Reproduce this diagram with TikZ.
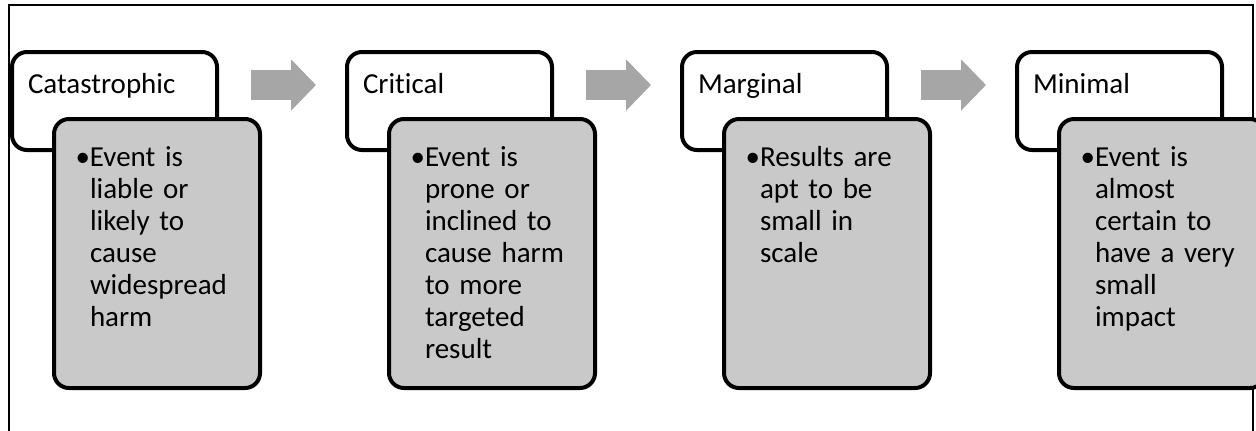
\documentclass[tikz,border=0pt]{standalone}
\usepackage{fontspec}
\setmainfont{Carlito}[Ligatures={NoCommon}]
\usetikzlibrary{positioning,arrows.meta}

\definecolor{boxgray}{RGB}{201,201,201}
\definecolor{arrowgray}{RGB}{166,166,166}

\begin{document}
\begin{tikzpicture}[x=0.5pt, y=-0.5pt,
    font=\fontsize{14.5pt}{16pt}\selectfont,
    head/.style = {draw, line width=2pt, rounded corners=7.5pt, fill=white, align=left,
        text width=86.5pt, inner xsep=8pt, inner ysep=0pt, text height=20.5pt, text depth=28.5pt},
    detail/.style = {draw, line width=2pt, rounded corners=7.5pt, fill=boxgray, anchor=north west,
        align=left, text width=67pt, inner xsep=18pt, inner ysep=0pt, text height=23.5pt, text depth=111pt},
    flow/.style = {arrowgray, line width=15pt, -{Triangle[length=12.5pt, width=25pt]}}]
    \useasboundingbox (0,0) rectangle (1256,430);
    \draw[line width=0.8pt] (9,440) -- (9,5) -- (1253,5) -- (1253,440);

    \node[head, anchor=north west] (w1) at (10,50) {Catastrophic};
    \node[head] (w2) [right=63pt of w1] {Critical};
    \node[head] (w3) [right=63pt of w2] {Marginal};
    \node[head] (w4) [right=63pt of w3] {Minimal};

    \node[detail] (g1) at ([xshift=21pt, yshift=-33.5pt]w1.north west)
        {\llap{\textbullet}Event is\\ liable or\\ likely to\\ cause\\ widespread\\ harm};
    \node[detail] (g2) at ([xshift=21pt, yshift=-33.5pt]w2.north west)
        {\llap{\textbullet}Event is\\ prone or\\ inclined~to\\ cause~harm\\ to more\\ targeted\\ result};
    \node[detail] (g3) at ([xshift=21pt, yshift=-33.5pt]w3.north west)
        {\llap{\textbullet}Results~are\\ apt to be\\ small in\\ scale};
    \node[detail] (g4) at ([xshift=21pt, yshift=-33.5pt]w4.north west)
        {\llap{\textbullet}Event is\\ almost\\ certain~to\\ have~a~very\\ small\\ impact};

    % \draw[flow] (w1) -- (w2);
    \draw[flow] ([xshift=16pt, yshift=8pt]w1.east) -- ([xshift=-14.5pt, yshift=8pt]w2.west);
    \draw[flow] ([xshift=16pt, yshift=8pt]w2.east) -- ([xshift=-14.5pt, yshift=8pt]w3.west);
    \draw[flow] ([xshift=16pt, yshift=8pt]w3.east) -- ([xshift=-14.5pt, yshift=8pt]w4.west);
\end{tikzpicture}
\end{document}
